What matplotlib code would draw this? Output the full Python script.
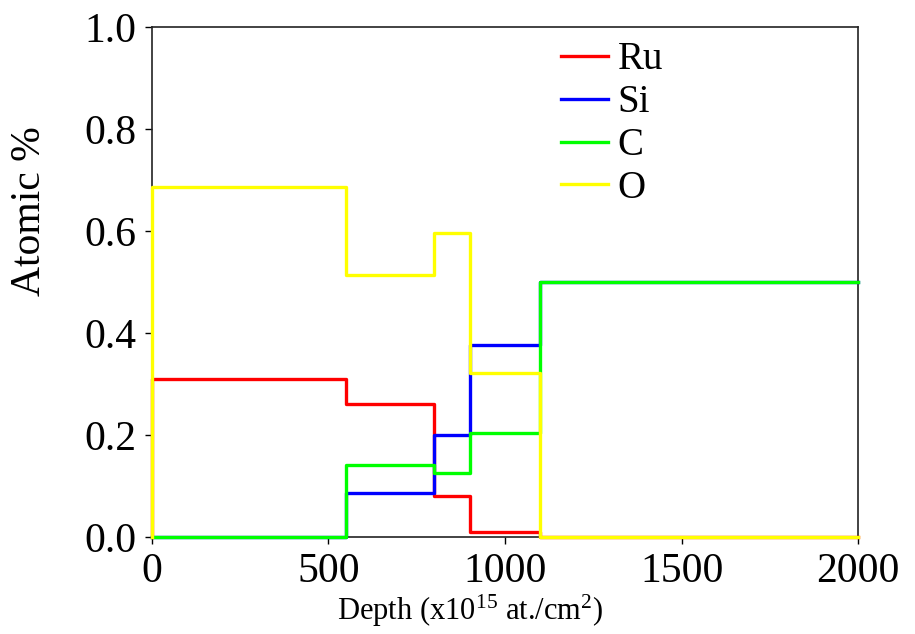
import matplotlib
matplotlib.use("Agg")
import matplotlib.pyplot as plt

# layer boundaries (x1e15 at/cm2) and atomic fractions per layer
edges = [0, 550, 800, 900, 1100, 2000]
ru = [0.31, 0.26, 0.08, 0.01, 0.0]
si = [0.0, 0.087, 0.20, 0.377, 0.5]
c = [0.0, 0.142, 0.126, 0.204, 0.5]
o = [0.686, 0.514, 0.597, 0.322, 0.0]

series = [("Ru", ru, "#ff0000"), ("Si", si, "#0000ff"),
          ("C", c, "#00ff00"), ("O", o, "#ffff00")]

plt.rcParams['font.family'] = ['Liberation Serif', 'DejaVu Serif']
plt.rcParams['mathtext.default'] = 'regular'

fig = plt.figure(figsize=(9.15, 6.34), dpi=100)
ax = fig.add_axes([0.166, 0.153, 0.772, 0.804])

for name, vals, col in series:
    xs = [edges[0]] + edges
    ys = [0.0] + vals + [vals[-1]]
    ax.step(xs, ys, where='post', color=col, lw=2.4, label=name,
            clip_on=False, zorder=3)

ax.set_xlim(0, 2000)
ax.set_ylim(0, 1.0)
ax.set_xticks([0, 500, 1000, 1500, 2000])
ax.set_yticks([0.0, 0.2, 0.4, 0.6, 0.8, 1.0])
ax.set_yticklabels(["%.1f" % v for v in [0.0, 0.2, 0.4, 0.6, 0.8, 1.0]])
ax.tick_params(direction='out', length=5, width=1, labelsize=30)
ax.tick_params(axis='y', pad=6)
ax.tick_params(axis='x', pad=6)
for s in ax.spines.values():
    s.set_linewidth(1.2)
    s.set_color('#222222')

ax.set_ylabel("Atomic %", fontsize=30)
ax.yaxis.set_label_coords(-0.145, 0.64)
ax.set_xlabel("Depth (x10$^{15}$ at./cm$^{2}$)", fontsize=22)
ax.xaxis.set_label_coords(0.45, -0.11)

ax.legend(loc='upper left', bbox_to_anchor=(0.563, 0.995), frameon=False,
          fontsize=28, handlelength=1.2, handletextpad=0.25,
          labelspacing=0.15, borderaxespad=0.0, borderpad=0.3)

fig.savefig("out.png", dpi=100)
